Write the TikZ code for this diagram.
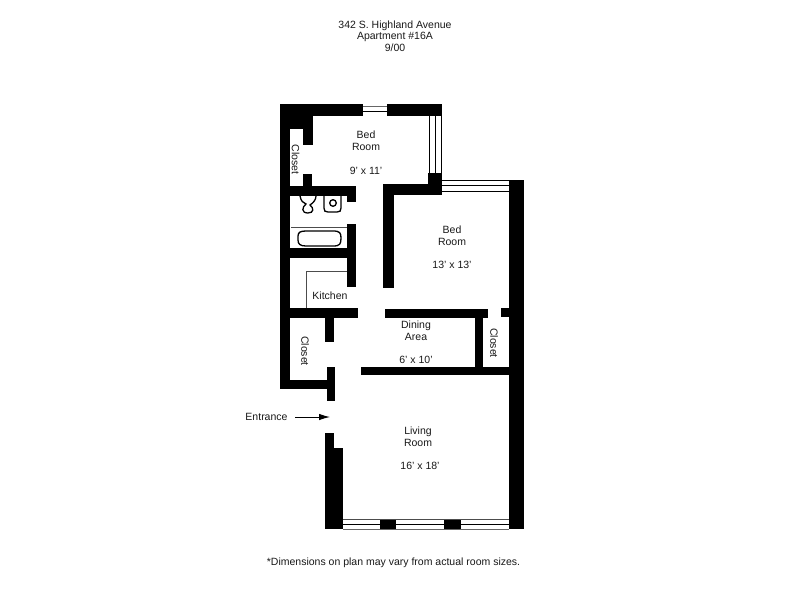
\documentclass[tikz,border=0pt]{standalone}
\usepackage{fontspec}
\setmainfont{Liberation Sans}
\usetikzlibrary{arrows.meta}
\tikzset{
 wall/.style={fill=black,draw=none},
 thinline/.style={draw=black,line width=0.7pt},
 fixture/.style={draw=black,line width=1.3pt,fill=white},
 txt/.style={font=\fontsize{10.5}{12}\selectfont,align=center,text=black!90,inner sep=0pt}
}
\newcommand{\W}[4]{\fill[wall] (#1,#2) rectangle (#3,#4);}
\begin{document}
\begin{tikzpicture}[x=1pt,y=-1pt]
\useasboundingbox (0,0) rectangle (800,600);
\fill[white] (0,0) rectangle (800,600);
% top bedroom
\W{280}{104}{363}{116}
\W{387}{104}{442}{116}
\W{280}{104}{290}{389}
\W{280}{104}{303}{129}
\W{303}{116}{313}{145}
\W{303}{174}{312}{190}
\W{280}{186}{356}{196}
\W{347}{196}{356}{202}
% top window
\draw[thinline,black!60] (363,106) -- (387,106);
\draw[thinline] (363,111) -- (387,111);
% right window of bedroom
\draw[thinline] (429,116) -- (429,174);
\draw[thinline] (435,116) -- (435,174);
\draw[thinline] (441.5,116) -- (441.5,174);
\W{428}{173}{442}{195}
\W{383}{184}{442}{195}
\W{383}{184}{394}{288}
% horizontal window
\draw[thinline] (442,180) -- (509,180);
\draw[thinline] (442,185.5) -- (509,185.5);
\draw[thinline] (442,191) -- (509,191);
% right wall
\W{509}{180}{523.5}{529}
% bath / kitchen
\W{347}{224}{356}{287}
\draw[thinline,black!70] (291,227) -- (347,227);
\W{280}{248}{347}{258}
\draw[thinline,black!70] (306,271) -- (347,271);
\draw[thinline,black!70] (306,271) -- (306,308);
\W{280}{308}{358}{318}
\W{385}{309}{488}{318}
\W{475}{318}{483}{367}
\W{501}{308}{509}{317}
\W{325}{318}{334}{342}
\W{280}{380}{335}{389}
\W{327}{367}{335}{401}
\W{361}{367}{509}{375}
% living room
\W{325}{433}{334}{529}
\W{325}{448}{343}{529}
\W{380}{519}{396}{529}
\W{444}{519}{461}{529}
\draw[thinline,black!70] (343,519) -- (509,519);
\draw[thinline] (343,524.3) -- (380,524.3);
\draw[thinline] (396,524.3) -- (444,524.3);
\draw[thinline] (461,524.3) -- (509,524.3);
\draw[thinline,black!60] (343,529) -- (509,529);
% fixtures
\draw[fixture] (298,236) .. controls (298,232) and (301,231) .. (306,231) -- (333,231) .. controls (340,231) and (341,233) .. (341,238) .. controls (341,244) and (340,246) .. (333,246) -- (306,246) .. controls (300,246) and (298,244) .. (298,240) -- cycle;
\draw[fixture] (324,196) -- (324,208) .. controls (324,211) and (325,212) .. (328,212) -- (337,212) .. controls (340,212) and (341,211) .. (341,208) -- (341,196);
\draw[fixture] (333,203) circle (3.3);
\draw[fixture,fill=none] (300,196) .. controls (301,201) and (303,203) .. (306,204) .. controls (302,207) and (301,213) .. (308,213) .. controls (314,213) and (314,208) .. (310,205) .. controls (313,203) and (316,200) .. (316,196);
% texts
\node[txt] (t1) at (395,25.5) {342 S. Highland Avenue};
\node[txt] (t2) at (395,36.5) {Apartment \#16A};
\node[txt] (t3) at (395,47.5) {9/00};
\node[txt] (bed1) at (366,140.5) {Bed\\Room};
\node[txt] (dim1) at (366,170.5) {9' x 11'};
\node[txt,rotate=-90] (c1) at (295.5,159.5) {Closet};
\node[txt] (bed2) at (452,235.5) {Bed\\Room};
\node[txt] (dim2) at (452,265) {13' x 13'};
\node[txt] (kit) at (330,295.5) {Kitchen};
\node[txt] (din) at (416,330.5) {Dining\\Area};
\node[txt] (dim3) at (416,360) {6' x 10'};
\node[txt,rotate=-90] (c2) at (305,351) {Closet};
\node[txt,rotate=-90] (c3) at (494,343) {Closet};
\node[txt] (ent) at (266.5,417) {Entrance};
\node[txt] (liv) at (418,436.5) {Living\\Room};
\node[txt] (dim4) at (420,466) {16' x 18'};
\node[txt] (note) at (393.5,563) {*Dimensions on plan may vary from actual room sizes.};
\coordinate (arrowend) at (330,417);
\coordinate (arrowstart) at (295,417);
\draw[line width=1pt,-{Latex[length=11pt,width=6.5pt]}] (arrowstart) -- (arrowend);
\end{tikzpicture}
\end{document}
